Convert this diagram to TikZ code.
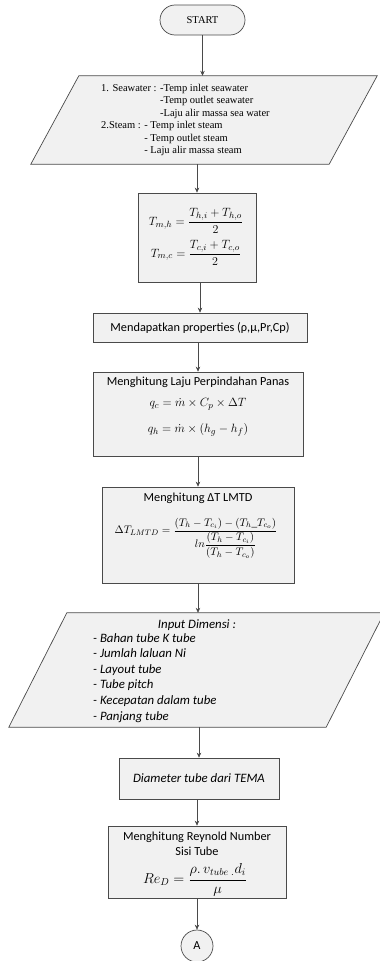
\documentclass[tikz,border=0pt]{standalone}
\usepackage{amsmath}
\usepackage{fontspec}
\setmainfont{Liberation Serif}
\newfontfamily\calibri{Carlito}
\usetikzlibrary{calc,arrows.meta}
\definecolor{linec}{HTML}{4A4A4A}
\definecolor{boxfill}{HTML}{F1F1F1}
\begin{document}
\begin{tikzpicture}[x=1pt,y=-1pt,
  outlined/.style={draw=linec,fill=boxfill,line width=0.7pt,inner sep=0pt},
  procbox/.style={outlined,rectangle},
  inv/.style={rectangle,inner sep=0pt,draw=none},
  para/.style={draw=linec,fill=boxfill,line width=0.7pt},
  txt/.style={inner sep=0pt,font=\calibri\fontsize{12.3}{15}\selectfont},
  itxt/.style={inner sep=0pt,font=\calibri\itshape\fontsize{12.8}{15.6}\selectfont},
  serif/.style={inner sep=0pt,font=\fontsize{10.5}{12.5}\selectfont},
  eq/.style={inner sep=0pt,font=\fontsize{12.5}{14}\selectfont},
  arr/.style={draw=linec,line width=0.6pt,-{Stealth[length=5pt,width=4.5pt]}}]
\useasboundingbox (0,0) rectangle (380,961);

% terminal
\node[outlined,rounded corners=15pt,minimum width=85pt,minimum height=30pt,
      font=\fontsize{10.5}{12}\selectfont] (start) at (202.5,20) {START};

% input data (parallelogram)
\node[inv,minimum width=346pt,minimum height=88pt] (p1) at (204,120) {};
\draw[para] ($(p1.north west)+(48,0)$) -- (p1.north east)
  -- ($(p1.south east)-(48,0)$) -- (p1.south west) -- cycle;
\node[serif,anchor=west,align=left] (p1t) at (101,120) {%
1. Seawater : -Temp inlet seawater\\
\phantom{1. Seawater : }-Temp outlet seawater\\
\phantom{1. Seawater : }-Laju alir massa sea water\\
2.Steam : - Temp inlet steam\\
\phantom{2.Steam : }- Temp outlet steam\\
\phantom{2.Steam : }- Laju alir massa steam};

% mean temperatures
\node[procbox,minimum width=118pt,minimum height=89pt] (tm) at (197,237.5) {};
\node[eq,font=\fontsize{13.2}{15}\selectfont] (tm1) at (196,221)
  {$\displaystyle T_{m,h}=\frac{T_{h,i}+T_{h,o}}{2}$};
\node[eq,font=\fontsize{13.2}{15}\selectfont] (tm2) at (196,253)
  {$\displaystyle T_{m,c}=\frac{T_{c,i}+T_{c,o}}{2}$};

% properties
\node[procbox,minimum width=214pt,minimum height=29pt,txt] (prop) at (200,327.5)
  {Mendapatkan properties (ρ,μ,Pr,Cp)};

% heat transfer rate
\node[procbox,minimum width=210pt,minimum height=84pt] (laju) at (198,414) {};
\node[txt] (laju-t) at (198,382) {Menghitung Laju Perpindahan Panas};
\node[eq] (laju-e1) at (198,404) {$q_c=\dot m\times C_p\times\Delta T$};
\node[eq] (laju-e2) at (198,430) {$q_h=\dot m\times(h_g-h_f)$};

% LMTD
\node[procbox,minimum width=192pt,minimum height=96pt] (lmtd) at (198,535) {};
\node[txt] (lmtd-t) at (198,498) {Menghitung ΔT LMTD};
\node[eq,font=\fontsize{11.2}{13}\selectfont] (lmtd-e) at (196,538) {$\displaystyle \Delta T_{LMTD}=
  \frac{(T_h-T_{c_i})-(T_h\_T_{c_o})}{ln\dfrac{(T_h-T_{c_i})}{(T_h-T_{c_o})}}$};

% dimension input (parallelogram)
\node[inv,minimum width=375pt,minimum height=114pt] (p2) at (196.5,670) {};
\draw[para] ($(p2.north west)+(58,0)$) -- (p2.north east)
  -- ($(p2.south east)-(58,0)$) -- (p2.south west) -- cycle;
\node[itxt] (p2-t) at (197,625) {Input Dimensi :};
\node[itxt,anchor=north west,align=left] (p2-l) at (93,633) {%
- Bahan tube K tube\\
- Jumlah laluan Ni\\
- Layout tube\\
- Tube pitch\\
- Kecepatan dalam tube\\
- Panjang tube};

% tube diameter
\node[procbox,minimum width=160pt,minimum height=41pt,itxt] (diam) at (199,778.5)
  {Diameter tube dari TEMA};

% Reynolds number
\node[procbox,minimum width=178pt,minimum height=72pt] (rey) at (197,862) {};
\node[txt,align=center] (rey-t) at (197,843.5) {Menghitung Reynold Number\\Sisi Tube};
\node[eq,font=\fontsize{14}{16}\selectfont] (rey-e) at (195,880)
  {$\displaystyle Re_D=\frac{\rho.\,v_{tube}\,{}_.d_i}{\mu}$};

% connector
\node[outlined,circle,minimum size=32pt,txt] (conA) at (197,946) {A};

% flow
\draw[arr] (start.south) -- (start.south |- p1.north);
\draw[arr] (tm.north |- p1.south) -- (tm.north);
\draw[arr] (prop.north |- tm.south) -- (prop.north);
\draw[arr] (laju.north |- prop.south) -- (laju.north);
\draw[arr] (laju.south) -- (laju.south |- lmtd.north);
\draw[arr] (lmtd.south) -- (lmtd.south |- p2.north);
\draw[arr] (diam.north |- p2.south) -- (diam.north);
\draw[arr] (rey.north |- diam.south) -- (rey.north);
\draw[arr] (rey.south) -- (conA.north);
\end{tikzpicture}
\end{document}
